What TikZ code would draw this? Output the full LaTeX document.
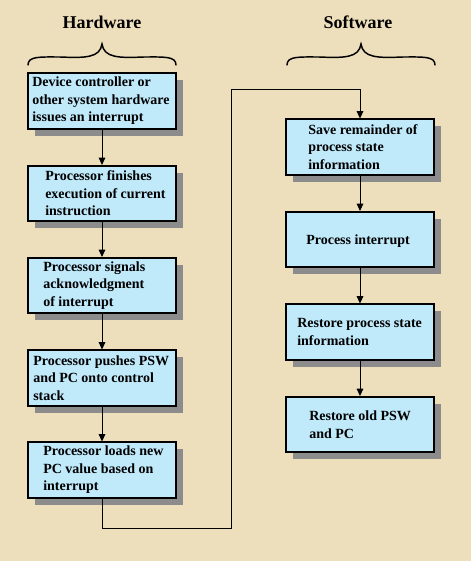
\documentclass[tikz,border=0pt]{standalone}
\usepackage{fontspec}
\setmainfont{Liberation Serif}
\usetikzlibrary{arrows.meta,shadows}
\definecolor{parch}{RGB}{238,223,188}
\definecolor{boxblue}{RGB}{192,233,250}
\definecolor{shadowgray}{RGB}{140,140,140}
\begin{document}
\begin{tikzpicture}[x=0.75pt,y=-0.75pt,
  flowbox/.style={draw=black, line width=1.3pt, fill=boxblue, minimum width=111pt, minimum height=41.5pt, inner sep=0pt,
    drop shadow={shadow xshift=5.25pt, shadow yshift=-5.25pt, fill=shadowgray, opacity=1}},
  boxtext/.style={anchor=west, align=left, font=\fontsize{10.5}{13.1}\selectfont\bfseries, inner sep=0pt},
  heading/.style={font=\fontsize{13.5}{16}\selectfont\bfseries},
  conn/.style={draw=black, line width=0.7pt, -{Triangle[length=5.5pt,width=5pt]}},
  bracestyle/.style={draw=black, line width=1.1pt, line cap=round}]
\fill[parch] (0,0) rectangle (471,561);
\useasboundingbox (0,0) rectangle (471,561);

% headings
\node[heading] (hw) at (102,22) {Hardware};
\node[heading] (sw) at (358,22) {Software};

% braces
\draw[bracestyle] (28,65) .. controls (28,56) and (40,57) .. (60,57)
  .. controls (85,58) and (100,58) .. (102,44)
  .. controls (104,58) and (119,58) .. (144,57)
  .. controls (164,57) and (176,56) .. (176,65);
\draw[bracestyle] (287,65) .. controls (287,56) and (299,57) .. (319,57)
  .. controls (344,58) and (359,58) .. (361,44)
  .. controls (363,58) and (378,58) .. (403,57)
  .. controls (423,57) and (435,56) .. (435,65);

% hardware boxes
\node[flowbox] (h1) at (102,101) {};
\node[flowbox] (h2) at (102,193.5) {};
\node[flowbox] (h3) at (102,285.5) {};
\node[flowbox] (h4) at (102,378) {};
\node[flowbox] (h5) at (102,470) {};

\node[boxtext] (t1) at (32,101) {Device controller or\\other system hardware\\issues an interrupt};
\node[boxtext] (t2) at (45,193.5) {Processor finishes\\execution of current\\instruction};
\node[boxtext] (t3) at (43,285.5) {Processor signals\\acknowledgment\\of interrupt};
\node[boxtext] (t4) at (33,378) {Processor pushes PSW\\and PC onto control\\stack};
\node[boxtext] (t5) at (43,470) {Processor loads new\\PC value based on\\interrupt};

% software boxes
\node[flowbox] (s1) at (360,147) {};
\node[flowbox] (s2) at (360,239.5) {};
\node[flowbox] (s3) at (360,332) {};
\node[flowbox] (s4) at (360,424.5) {};

\node[boxtext] (u1) at (308,147) {Save remainder of\\process state\\information};
\node[boxtext] (u2) at (306,241) {Process interrupt};
\node[boxtext] (u3) at (297,332) {Restore process state\\information};
\node[boxtext] (u4) at (309,424.5) {Restore old PSW\\and PC};

% connectors
\draw[conn] (h1.south) -- (h2.north);
\draw[conn] (h2.south) -- (h3.north);
\draw[conn] (h3.south) -- (h4.north);
\draw[conn] (h4.south) -- (h5.north);
\coordinate (c1) at (102,528);
\coordinate (c2) at (231,528);
\coordinate (c3) at (231,89);
\coordinate (c4) at (360,89);
\draw[conn] (h5.south) -- (c1) -- (c2) -- (c3) -- (c4) -- (s1.north);
\draw[conn] (s1.south) -- (s2.north);
\draw[conn] (s2.south) -- (s3.north);
\draw[conn] (s3.south) -- (s4.north);
\end{tikzpicture}
\end{document}
